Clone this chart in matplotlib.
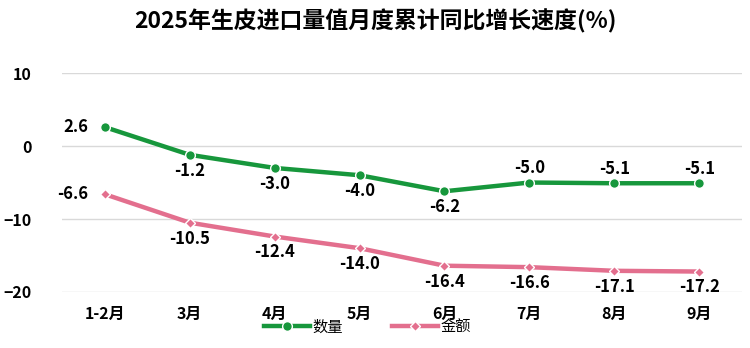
import matplotlib.pyplot as plt

plt.rcParams['font.family'] = ['Noto Sans CJK SC', 'DejaVu Sans']

months = ["1-2月", "3月", "4月", "5月", "6月", "7月", "8月", "9月"]
quantity = [2.6, -1.2, -3.0, -4.0, -6.2, -5.0, -5.1, -5.1]
amount = [-6.6, -10.5, -12.4, -14.0, -16.4, -16.6, -17.1, -17.2]

green = "#17973c"
pink = "#e36f8e"

fig = plt.figure(figsize=(7.5, 3.48), dpi=100)
ax = fig.add_axes([0.083, 0.161, 0.906, 0.629])
x = list(range(len(months)))

ax.plot(x, quantity, color=green, lw=3.2, marker="o", ms=7,
        mec="white", mew=1, label="数量", zorder=3)
ax.plot(x, amount, color=pink, lw=3.2, marker="D", ms=5.5,
        mec="white", mew=1, label="金额", zorder=3)

# value labels: first point to the left, the rest above or below
lbl = dict(fontsize=12, fontweight="bold", textcoords="offset points")
for i, v in enumerate(quantity):
    if i == 0:
        ax.annotate(f"{v:.1f}", (i, v), xytext=(-12, 0), ha="right", va="center", **lbl)
    elif i >= 5:
        ax.annotate(f"{v:.1f}", (i, v), xytext=(0, 4), ha="center", va="bottom", **lbl)
    else:
        ax.annotate(f"{v:.1f}", (i, v), xytext=(0, -5), ha="center", va="top", **lbl)
for i, v in enumerate(amount):
    if i == 0:
        ax.annotate(f"{v:.1f}", (i, v), xytext=(-12, 0), ha="right", va="center", **lbl)
    else:
        ax.annotate(f"{v:.1f}", (i, v), xytext=(0, -5), ha="center", va="top", **lbl)

ax.set_xlim(-0.5, len(months) - 0.5)
ax.set_ylim(-20, 10)
ax.set_yticks([-20, -10, 0, 10])
ax.set_xticks(x)
ax.set_xticklabels(months)
for lab in ax.get_xticklabels() + ax.get_yticklabels():
    lab.set_fontweight("bold")
    lab.set_fontsize(11.5)
ax.tick_params(length=0, pad=10)
ax.tick_params(axis="y", pad=22)
ax.grid(axis="y", color="#d9d9d9", lw=1)
ax.set_axisbelow(True)
for s in ax.spines.values():
    s.set_visible(False)

fig.legend(*ax.get_legend_handles_labels(), loc="center", bbox_to_anchor=(0.49, 0.06),
           ncol=2, frameon=False, fontsize=11, handlelength=3, columnspacing=3.2,
           handletextpad=0.2, borderpad=0)

fig.text(0.5, 0.94, "2025年生皮进口量值月度累计同比增长速度(%)", ha="center", va="center",
         fontsize=16.5, fontweight="bold")

fig.savefig("out.png")
